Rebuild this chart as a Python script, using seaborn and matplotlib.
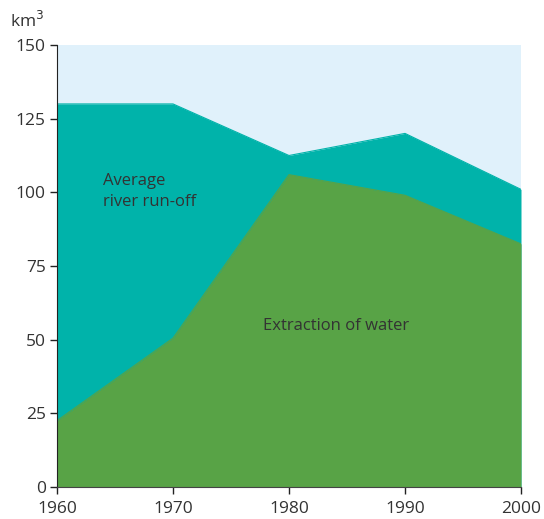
import matplotlib
matplotlib.use("Agg")
import matplotlib.pyplot as plt
import seaborn as sns
import pandas as pd

years = [1960, 1970, 1980, 1990, 2000]
runoff = [130, 130, 112.5, 120, 101]
extraction = [22.5, 50.5, 106, 99, 82.5]
yticks = [0, 25, 50, 75, 100, 125, 150]

sns.set_style("ticks")
plt.rcParams['font.family'] = ['Open Sans', 'DejaVu Sans']
plt.rcParams['font.weight'] = 'normal'

df = pd.DataFrame({"year": years, "runoff": runoff, "extraction": extraction})

fig = plt.figure(figsize=(5.44, 5.19), dpi=100)
ax = fig.add_axes([57/544, 1-487/519, (521-57)/544, (487-45)/519])
ax.set_facecolor("#E0F1FB")

c_run = "#00B3AA"
c_ext = "#58A346"
txt = "#333333"
ax.fill_between(df["year"], 0, df["runoff"], color=c_run, linewidth=0)
ax.fill_between(df["year"], 0, df["extraction"], color=c_ext, linewidth=0)
sns.lineplot(data=df, x="year", y="runoff", ax=ax, color=c_run, linewidth=0.8)
sns.lineplot(data=df, x="year", y="extraction", ax=ax, color=c_ext, linewidth=0.8)

ax.set_xlim(1960, 2000)
ax.set_ylim(0, 150)
ax.set_xticks(years)
ax.set_yticks(yticks)
ax.set_xlabel("")
ax.set_ylabel("")
for s in ["top", "right"]:
    ax.spines[s].set_visible(False)
ax.spines["left"].set_color("#222222")
ax.spines["bottom"].set_color("#444444")
ax.tick_params(axis="both", labelsize=12.5, colors="#222222", labelcolor=txt, length=5, width=1)
ax.tick_params(axis="x", pad=5)
ax.tick_params(axis="y", pad=3)

ax.text(1964, 100.3, "Average\nriver run-off", fontsize=12, color=txt,
        va="center", ha="left", linespacing=1.4)
ax.text(1984.1, 54.7, "Extraction of water", fontsize=12, color=txt,
        va="center", ha="center")
fig.text(10/544, 1-21/519, "km$^3$", fontsize=12.5, color=txt, va="center", ha="left")

fig.savefig("out.png", dpi=100)
